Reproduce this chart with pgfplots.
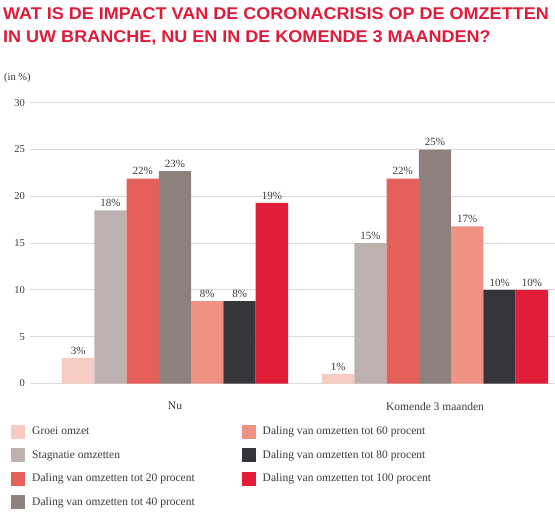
\documentclass[border=0pt]{standalone}
\usepackage{pgfplots}
\pgfplotsset{compat=1.18}
\usepackage{fontspec}
\setmainfont{Liberation Serif}
\newfontfamily\titlefont{Liberation Sans}

\definecolor{cgroei}{HTML}{F5CBC2}
\definecolor{cstag}{HTML}{BDB2AF}
\definecolor{ctwintig}{HTML}{E6605B}
\definecolor{cveertig}{HTML}{8E807C}
\definecolor{czestig}{HTML}{EE9383}
\definecolor{ctachtig}{HTML}{36363A}
\definecolor{choneerd}{HTML}{E11D3A}
\definecolor{titlered}{HTML}{E01B3A}
\definecolor{txtgray}{HTML}{3A3A3A}
\definecolor{gridgray}{HTML}{DADADA}

\begin{document}
\begin{tikzpicture}
% page = 555 x 512, axis box lower left at pixel (30, 383.5)
\useasboundingbox (-30pt,-128.5pt) rectangle (525pt,383.5pt);

\node[anchor=base west, text=titlered, font=\titlefont\bfseries\fontsize{17}{20}\selectfont, inner sep=0pt]
  at (-27pt,363.5pt) {\scalebox{1.06}[1]{WAT IS DE IMPACT VAN DE CORONACRISIS OP DE OMZETTEN}};
\node[anchor=base west, text=titlered, font=\titlefont\bfseries\fontsize{17}{20}\selectfont, inner sep=0pt]
  at (-27pt,340.5pt) {\scalebox{1.06}[1]{IN UW BRANCHE, NU EN IN DE KOMENDE 3 MAANDEN?}};
\node[anchor=base west, text=txtgray, font=\fontsize{10.5}{12}\selectfont, inner sep=0pt]
  at (-26pt,302.5pt) {(in \%)};

\begin{axis}[
    at={(0,0)}, anchor=south west,
    scale only axis, width=525pt, height=280.8pt,
    xmin=-0.5577, xmax=1.4615, ymin=0, ymax=30,
    ybar=0pt, bar width=0.1242,
    axis line style={draw=none},
    major tick length=0pt,
    ytick={0,5,...,30},
    ymajorgrids, major grid style={gridgray, line width=0.9pt},
    xtick={0,1}, xticklabels={Nu, Komende 3 maanden},
    xticklabel style={yshift=-15pt, text=txtgray, font=\fontsize{11.5}{13}\selectfont},
    yticklabel style={text=txtgray, font=\fontsize{10.5}{12}\selectfont, xshift=-1.5pt},
    /pgf/number format/assume math mode=true,
    point meta=explicit symbolic,
    nodes near coords={\pgfplotspointmeta\%},
    every node near coord/.append style={text=txtgray, font=\fontsize{11}{12}\selectfont},
    legend style={at={(0,0)}, anchor=north west, xshift=-22pt, yshift=-39pt,
      draw=none, fill=none, font=\fontsize{11.5}{13}\selectfont, text=txtgray,
      row sep=9.5pt,
      /tikz/every odd column/.append style={column sep=5pt},
      /tikz/every even column/.append style={column sep=45pt}},
    legend cell align=left,
    transpose legend, legend columns=4,
    legend image code/.code={\fill[#1] (0pt,-7pt) rectangle (14pt,7pt);},
  ]
  \addplot[fill=cgroei, draw=none] coordinates {(0,2.7)[3] (1,1.0)[1]};
  \addplot[fill=cstag, draw=none] coordinates {(0,18.5)[18] (1,15.0)[15]};
  \addplot[fill=ctwintig, draw=none] coordinates {(0,21.9)[22] (1,21.9)[22]};
  \addplot[fill=cveertig, draw=none] coordinates {(0,22.7)[23] (1,25.0)[25]};
  \addplot[fill=czestig, draw=none] coordinates {(0,8.8)[8] (1,16.8)[17]};
  \addplot[fill=ctachtig, draw=none] coordinates {(0,8.8)[8] (1,10.0)[10]};
  \addplot[fill=choneerd, draw=none] coordinates {(0,19.3)[19] (1,10.0)[10]};
  \legend{Groei omzet, Stagnatie omzetten, Daling van omzetten tot 20 procent,
    Daling van omzetten tot 40 procent, Daling van omzetten tot 60 procent,
    Daling van omzetten tot 80 procent, Daling van omzetten tot 100 procent}
\end{axis}
\end{tikzpicture}
\end{document}
